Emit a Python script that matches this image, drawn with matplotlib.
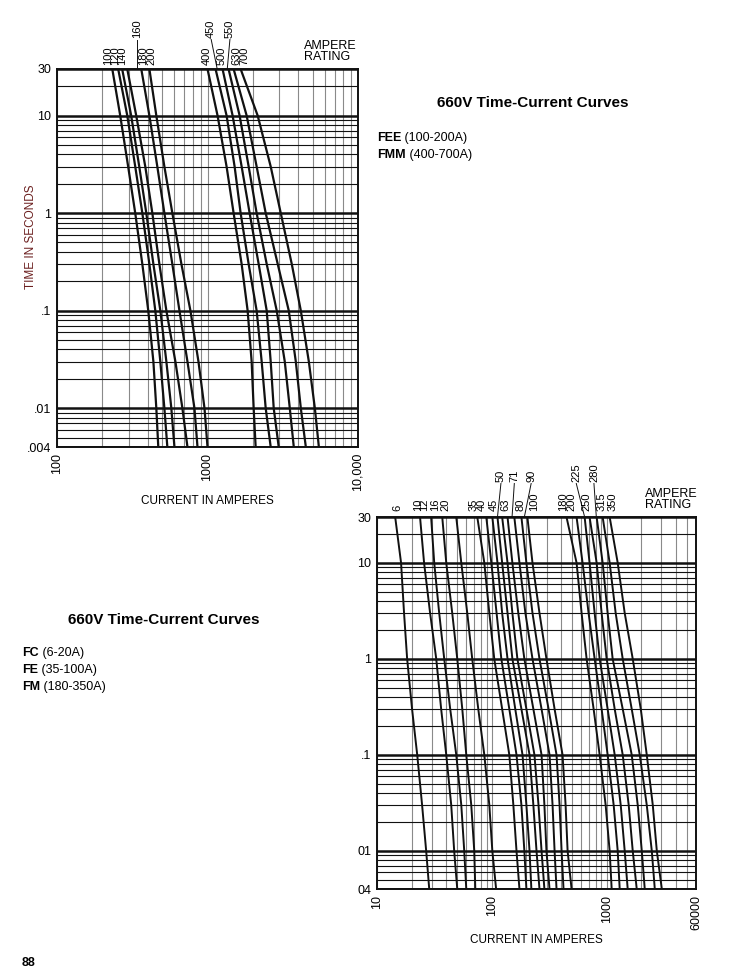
import numpy as np
import matplotlib.pyplot as plt
from matplotlib.ticker import LogLocator, NullFormatter

plt.rcParams['font.family'] = ['Liberation Sans', 'DejaVu Sans']

times = [30, 10, 3, 1, 0.3, 0.1, 0.03, 0.01, 0.004]

# upper chart: FEE (100-200A) and FMM (400-700A), current in amperes
fee_ratings = ['100', '120', '140', '160', '180', '200']
fee_curves = [
    [233, 263, 297, 331, 369, 404, 437, 457, 471],
    [255, 293, 331, 369, 411, 450, 486, 517, 541],
    [271, 311, 352, 392, 437, 486, 533, 575, 603],
    [293, 336, 386, 430, 479, 533, 612, 681, 736],
    [363, 411, 464, 517, 584, 651, 736, 819, 858],
    [411, 457, 517, 584, 671, 770, 871, 955, 1000],
]
fmm_ratings = ['400', '450', '500', '550', '630', '700']
fmm_curves = [
    [1000, 1166, 1339, 1491, 1686, 1848, 1965, 2026, 2089],
    [1131, 1339, 1514, 1660, 1877, 2121, 2291, 2436, 2630],
    [1259, 1468, 1686, 1905, 2188, 2474, 2630, 2754, 2974],
    [1380, 1634, 1877, 2121, 2474, 2884, 3262, 3522, 3744],
    [1491, 1820, 2121, 2436, 2929, 3467, 3862, 4169, 4502],
    [1660, 2154, 2630, 3067, 3631, 4169, 4714, 5168, 5495],
]

# lower chart: FC (6-20A), FE (35-100A), FM (180-350A)
fc_ratings = ['6', '10', '12', '16', '20']
fc_curves = [
    [14.4, 16.2, 17.2, 18.3, 20.2, 22.4, 24.7, 26.8, 28.5],
    [23.7, 25.7, 29.0, 32.8, 36.2, 40.1, 44.3, 47.0, 50.0],
    [29.6, 31.5, 34.8, 38.5, 43.4, 49.0, 54.2, 57.5, 59.9],
    [37.0, 40.1, 45.2, 50.0, 55.3, 59.9, 66.2, 70.3, 71.8],
    [49.0, 54.2, 61.1, 67.5, 76.2, 86.0, 95.1, 101, 109],
]
fe_ratings = ['35', '40', '45', '50', '63', '71', '80', '90', '100']
fe_curves = [
    [74.7, 86.0, 95.1, 105, 123, 142, 154, 164, 174],
    [89.5, 99.0, 110, 121, 142, 164, 181, 192, 200],
    [101, 112, 123, 137, 160, 185, 200, 213, 221],
    [112, 123, 137, 151, 181, 213, 230, 245, 260],
    [123, 137, 151, 167, 200, 235, 255, 271, 287],
    [137, 151, 170, 192, 230, 271, 287, 299, 318],
    [157, 174, 196, 226, 271, 318, 338, 352, 366],
    [181, 200, 226, 260, 312, 366, 389, 405, 421],
    [204, 226, 260, 299, 352, 413, 439, 457, 495],
]
fm_ratings = ['180', '200', '225', '250', '280', '315', '350']
fm_curves = [
    [447, 547, 605, 669, 770, 869, 980, 1062, 1106],
    [547, 617, 696, 786, 904, 1020, 1151, 1248, 1299],
    [643, 710, 786, 869, 1020, 1175, 1326, 1436, 1525],
    [710, 818, 904, 1000, 1175, 1380, 1556, 1687, 1828],
    [818, 923, 1020, 1128, 1380, 1653, 1865, 2022, 2147],
    [923, 1062, 1198, 1380, 1653, 1942, 2235, 2472, 2626],
    [1062, 1248, 1436, 1687, 1982, 2235, 2522, 2734, 3023],
]

# rating label placement (x in amperes) and which ones sit on the upper row
top_label_x = [220, 244, 270, 340, 373, 423, 995, 1058, 1240, 1409, 1561, 1765]
top_label_raised = ['160', '450', '550']
top_leaders = [(340, 340), (1058, 1160), (1409, 1353)]
bot_label_x = [15.0, 22.8, 25.7, 32.1, 39.8, 68.9, 81.5, 103, 120, 131, 157, 176,
               220, 232, 415, 492, 544, 673, 775, 910, 1135]
bot_label_raised = ['50', '71', '90', '225', '280']
bot_leaders = [(120, 112), (157, 150), (220, 192), (544, 643), (775, 813)]

W, H = 742, 976
fig = plt.figure(figsize=(W / 100, H / 100), dpi=100)


def px_axes(l, t, r, b):
    return fig.add_axes([l / W, 1 - b / H, (r - l) / W, (b - t) / H])


def setup(ax, xlim, xticks, xlabels, yticklabels):
    ax.set_xscale('log')
    ax.set_yscale('log')
    ax.set_xlim(*xlim)
    ax.set_ylim(0.004, 30)
    ax.set_yticks([0.004, 0.01, 0.1, 1, 10, 30])
    ax.set_yticklabels(yticklabels)
    ax.set_xticks(xticks)
    ax.set_xticklabels(xlabels, rotation=90, va='top')
    ax.yaxis.set_minor_locator(LogLocator(base=10, subs=np.arange(2, 10), numticks=50))
    ax.xaxis.set_minor_locator(LogLocator(base=10, subs=np.arange(2, 10), numticks=50))
    ax.xaxis.set_minor_formatter(NullFormatter())
    ax.yaxis.set_minor_formatter(NullFormatter())
    ax.tick_params(which='both', length=0, labelsize=9, pad=4)
    ax.grid(which='both', axis='x', color='#8a8a8a', lw=0.8)
    ax.grid(which='major', axis='y', color='#111111', lw=1.8)
    ax.grid(which='minor', axis='y', color='#111111', lw=0.8)
    ax.set_axisbelow(True)
    for s in ax.spines.values():
        s.set_linewidth(1.4)
        s.set_color('#111111')
    ax.set_xlabel('CURRENT IN AMPERES', fontsize=8.5, labelpad=3)


def rating_labels(ax, labels, xs, raised, leaders, low, high):
    tr = ax.get_xaxis_transform()
    for lab, x in zip(labels, xs):
        y = high if lab in raised else low
        ax.text(x, y, lab, rotation=90, ha='center', va='bottom', fontsize=8,
                transform=tr, clip_on=False)
    for x0, x1 in leaders:
        ax.plot([x0, x1], [high - 0.004, 1.0], color='#111111', lw=0.7,
                transform=tr, clip_on=False)


# upper chart
ax1 = px_axes(57, 69, 358, 447)
setup(ax1, (100, 10000), [100, 1000, 10000], ['100', '1000', '10,000'],
      ['.004', '.01', '.1', '1', '10', '30'])
ax1.set_ylabel('TIME IN SECONDS', fontsize=8.5, color='#6b1f1f')
ax1.yaxis.set_label_coords(-0.066, 0.556)
for cur in fee_curves + fmm_curves:
    ax1.plot(cur, times, color='#111111', lw=1.6)
rating_labels(ax1, fee_ratings + fmm_ratings, top_label_x, top_label_raised,
              top_leaders, 1.011, 1.082)
ax1.text(0.82, 1.015, 'AMPERE\nRATING', transform=ax1.transAxes, fontsize=9,
         ha='left', va='bottom', linespacing=0.9)

# lower chart
ax2 = px_axes(377, 517, 696, 889)
setup(ax2, (10, 6000), [10, 100, 1000, 6000], ['10', '100', '1000', '60000'],
      ['04', '01', '.1', '1', '10', '30'])
for cur in fc_curves + fe_curves + fm_curves:
    ax2.plot(cur, times, color='#111111', lw=1.4)
rating_labels(ax2, fc_ratings + fe_ratings + fm_ratings, bot_label_x,
              bot_label_raised, bot_leaders, 1.015, 1.094)
ax2.text(0.84, 1.015, 'AMPERE\nRATING', transform=ax2.transAxes, fontsize=9,
         ha='left', va='bottom', linespacing=0.9)


def label_pair(x, y, bold, rest, size=9):
    t = fig.text(x / W, 1 - y / H, bold, fontsize=size, weight='bold', va='bottom')
    ax1.annotate(rest, xy=(1, 0), xycoords=t, va='bottom', ha='left', fontsize=size)


fig.text(437 / W, 1 - 110 / H, '660V Time-Current Curves', fontsize=11,
         weight='bold', va='bottom')
label_pair(377, 144, 'FEE', ' (100-200A)')
label_pair(377, 161, 'FMM', ' (400-700A)')

fig.text(68 / W, 1 - 627 / H, '660V Time-Current Curves', fontsize=11,
         weight='bold', va='bottom')
label_pair(22, 659, 'FC', ' (6-20A)')
label_pair(22, 676, 'FE', ' (35-100A)')
label_pair(22, 693, 'FM', ' (180-350A)')

fig.text(22 / W, 1 - 969 / H, '88', fontsize=9, weight='bold', va='bottom')

fig.savefig('out.png', dpi=100)
